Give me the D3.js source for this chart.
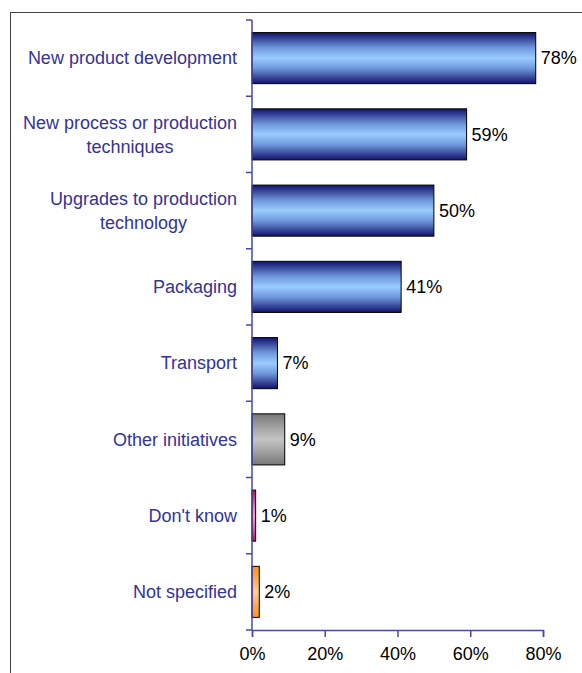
<!DOCTYPE html>
<html>
<head>
<meta charset="utf-8">
<script src="https://cdn.jsdelivr.net/npm/d3@7"></script>
<style>
  body { margin: 0; background: #fff; }
  svg { display: block; font-family: "Liberation Sans", Arial, sans-serif; }
</style>
</head>
<body>
<svg id="chart"></svg>
<script>
const categories = [
  ["New product development"],
  ["New process or production", "techniques"],
  ["Upgrades to production", "technology"],
  ["Packaging"],
  ["Transport"],
  ["Other initiatives"],
  ["Don't know"],
  ["Not specified"]
];
const values = [78, 59, 50, 41, 7, 9, 1, 2];
const barStyles = ["blue", "blue", "blue", "blue", "blue", "grey", "red", "orange"];
const xTicks = [0, 20, 40, 60, 80];

const gradients = {
  blue: ["#12126c", "#6f98dc", "#99ccff"],
  grey: ["#777777", "#a8a8a8", "#c4c4c4"],
  red: ["#c0103a", "#f070a0", "#ff99cc"],
  orange: ["#ff9020", "#ffb060", "#ffcc99"]
};

const svgWidth = 582, svgHeight = 673;
const margin = { top: 20, right: 39, bottom: 43, left: 252 };
const width = svgWidth - margin.left - margin.right;
const height = svgHeight - margin.top - margin.bottom;
const axisColor = "#4848a8";
const fontSize = 18;

const svg = d3.select("#chart")
  .attr("width", svgWidth)
  .attr("height", svgHeight);

// frame
svg.append("rect")
  .attr("x", 10.5)
  .attr("y", 12.5)
  .attr("width", svgWidth + 10)
  .attr("height", svgHeight + 10)
  .attr("fill", "none")
  .attr("stroke", "#444")
  .attr("stroke-width", 1);

const defs = svg.append("defs");
Object.entries(gradients).forEach(([k, c]) => {
  const g = defs.append("linearGradient")
    .attr("id", "grad-" + k)
    .attr("x1", 0).attr("y1", 0).attr("x2", 0).attr("y2", 1);
  g.append("stop").attr("offset", "0%").attr("stop-color", c[0]);
  g.append("stop").attr("offset", "30%").attr("stop-color", c[1]);
  g.append("stop").attr("offset", "50%").attr("stop-color", c[2]);
  g.append("stop").attr("offset", "70%").attr("stop-color", c[1]);
  g.append("stop").attr("offset", "100%").attr("stop-color", c[0]);
});

const g = svg.append("g")
  .attr("transform", `translate(${margin.left},${margin.top})`);

const x = d3.scaleLinear().domain([0, 80]).range([0, width]);
const y = d3.scaleBand()
  .domain(d3.range(categories.length))
  .range([0, height])
  .paddingInner(0.33)
  .paddingOuter(0.165);
const step = y.step();

// bars
g.selectAll("rect.bar")
  .data(values)
  .enter()
  .append("rect")
  .attr("class", "bar")
  .attr("x", 0)
  .attr("y", (d, i) => y(i))
  .attr("width", d => x(d))
  .attr("height", y.bandwidth())
  .attr("fill", (d, i) => `url(#grad-${barStyles[i]})`)
  .attr("stroke", "#000")
  .attr("stroke-width", 1);

// value labels
g.selectAll("text.val")
  .data(values)
  .enter()
  .append("text")
  .attr("class", "val")
  .attr("x", d => x(d) + 5)
  .attr("y", (d, i) => y(i) + y.bandwidth() / 2)
  .attr("dy", "0.35em")
  .attr("font-size", fontSize)
  .attr("fill", "#000")
  .text(d => d + "%");

// y axis
g.append("line")
  .attr("x1", 0).attr("x2", 0)
  .attr("y1", 0).attr("y2", height)
  .attr("stroke", axisColor).attr("stroke-width", 1.5);
g.selectAll("line.ytick")
  .data(d3.range(categories.length + 1))
  .enter()
  .append("line")
  .attr("x1", -6).attr("x2", 0)
  .attr("y1", d => d * step).attr("y2", d => d * step)
  .attr("stroke", axisColor).attr("stroke-width", 1.5);

// category labels: block right aligned, lines centred
const lineH = 24;
categories.forEach((lines, i) => {
  const cy = y(i) + y.bandwidth() / 2;
  const t = g.append("text")
    .attr("font-size", fontSize)
    .attr("fill", "#333399")
    .attr("text-anchor", "middle");
  lines.forEach((l, j) => {
    t.append("tspan")
      .attr("x", 0)
      .attr("y", cy + (j - (lines.length - 1) / 2) * lineH)
      .attr("dy", "0.35em")
      .text(l);
  });
  const w = d3.max(t.selectAll("tspan").nodes(), n => n.getComputedTextLength());
  t.selectAll("tspan").attr("x", -15 - w / 2);
});

// x axis
const xAxis = g.append("g")
  .attr("transform", `translate(0,${height})`)
  .call(d3.axisBottom(x).tickValues(xTicks).tickFormat(d => d + "%").tickSize(7).tickPadding(10));
xAxis.select(".domain").attr("stroke", axisColor).attr("stroke-width", 1.5);
xAxis.selectAll(".tick line").attr("stroke", axisColor).attr("stroke-width", 1.5);
xAxis.selectAll(".tick text")
  .attr("font-size", fontSize)
  .attr("font-family", "Liberation Sans, Arial, sans-serif")
  .attr("fill", "#000");
</script>
</body>
</html>
